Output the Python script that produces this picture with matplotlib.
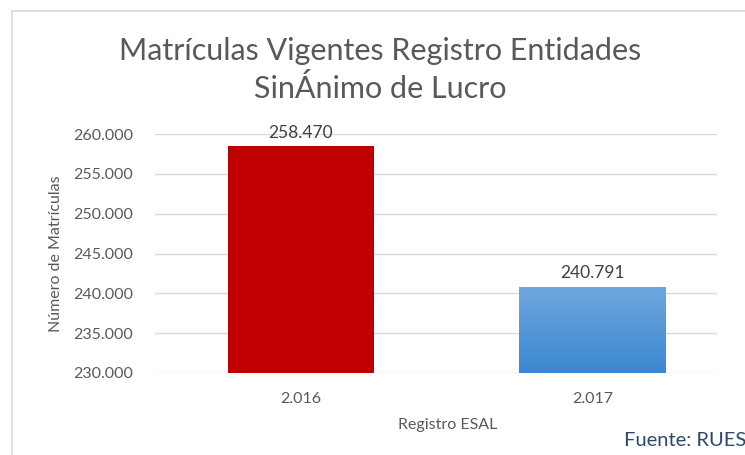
import matplotlib.pyplot as plt
import matplotlib.patches as mpatches
import numpy as np

plt.rcParams['font.family'] = ['Lato', 'DejaVu Sans']

years = ["2.016", "2.017"]
matriculas = [258470, 240791]
labels = ["258.470", "240.791"]
yticks = [230000, 235000, 240000, 245000, 250000, 255000, 260000]

W, H = 745, 455
fig = plt.figure(figsize=(W / 100, H / 100), dpi=100)

# chart frame
fig.patches.append(mpatches.Rectangle((12 / W, -0.1), 1.0, 1 - 11 / H + 0.1,
                                      transform=fig.transFigure, fill=False,
                                      edgecolor="#D9D9D9", linewidth=1.2))

ax = fig.add_axes([155 / W, 1 - 373 / H, (717 - 155) / W, (373 - 134) / H])
x = np.arange(len(years))
bars = ax.bar(x, matriculas, width=0.503, color=["#C00000", "#5B9BD5"], zorder=2)

# gradient on the 2017 bar
b = bars[1]
grad = np.linspace(0, 1, 100).reshape(-1, 1)
cmap = plt.matplotlib.colors.LinearSegmentedColormap.from_list("g", ["#3C87D2", "#6EA7DD"])
img = ax.imshow(grad, extent=[b.get_x(), b.get_x() + b.get_width(), 230000, b.get_height()],
                origin="lower", aspect="auto", cmap=cmap, zorder=3)
img.set_clip_path(b)

ax.set_xlim(-0.5, 1.425)
ax.set_ylim(230000, 260000)
ax.set_yticks(yticks)
ax.set_yticklabels([f"{v:,}".replace(",", ".") for v in yticks])
ax.set_xticks(x)
ax.set_xticklabels(years)
ax.grid(axis="y", color="#D9D9D9", linewidth=1, zorder=0)
for s in ax.spines.values():
    s.set_visible(False)
ax.tick_params(length=0, labelsize=11.5, colors="#595959", pad=16)
ax.tick_params(axis="x", pad=14)

for xi, v, lab in zip(x, matriculas, labels):
    ax.text(xi, v + 700, lab, ha="center", va="bottom", fontsize=12.5, color="#404040")

ax.set_ylabel("Número de Matrículas", fontsize=11.5, color="#595959", labelpad=7)
ax.set_xlabel("Registro ESAL", fontsize=11.5, color="#595959", labelpad=11)
ax.xaxis.set_label_coords(0.52, -0.19)

fig.text(380 / W, 1 - 70 / H, "Matrículas Vigentes Registro Entidades\nSinÁnimo de Lucro",
         ha="center", va="center", fontsize=22, color="#595959", linespacing=1.35)
fig.text(624 / W, 1 - 441 / H, "Fuente: RUES", ha="left", va="center",
         fontsize=14.5, color="#2E4A6B")

fig.savefig("out.png", dpi=100)
